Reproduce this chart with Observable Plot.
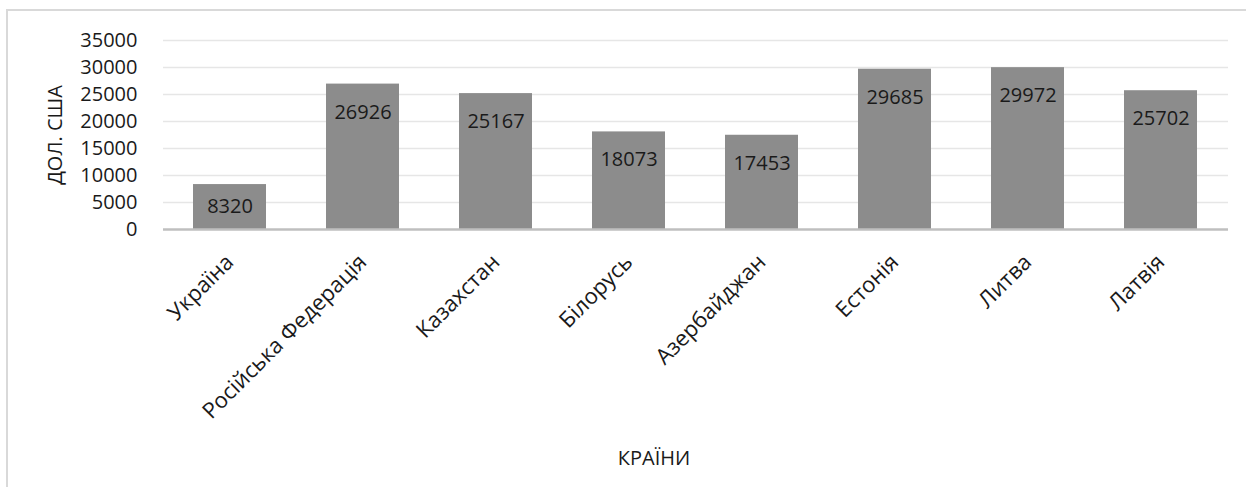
<!DOCTYPE html>
<html>
<head>
<meta charset="utf-8">
<script src="https://cdn.jsdelivr.net/npm/d3@7"></script>
<script src="https://cdn.jsdelivr.net/npm/@observablehq/plot@0.6"></script>
<style>
  html, body { margin: 0; padding: 0; background: #fff; }
  #wrap { position: relative; width: 1246px; height: 487px; overflow: hidden; }
  #frame { position: absolute; left: 6px; top: 9px; width: 1300px; height: 600px;
           border-left: 2px solid #d9d9d9; border-top: 2px solid #d9d9d9; pointer-events: none; }
  #chart { position: absolute; left: 0; top: 0; }
</style>
</head>
<body>
<div id="wrap"><div id="chart"></div><div id="frame"></div></div>
<script>
const countries = ["Україна", "Російська Федерація", "Казахстан", "Білорусь", "Азербайджан", "Естонія", "Литва", "Латвія"];
const values = [8320, 26926, 25167, 18073, 17453, 29685, 29972, 25702];
const yTicks = [0, 5000, 10000, 15000, 20000, 25000, 30000, 35000];
const xTitle = "КРАЇНИ";
const yTitle = "ДОЛ. США";

const data = countries.map((c, i) => ({country: c, value: values[i]}));
const font = "'Open Sans', sans-serif";

const plot = Plot.plot({
  width: 1246,
  height: 487,
  marginLeft: 163,
  marginRight: 18,
  marginTop: 40,
  marginBottom: 258,
  style: {fontFamily: font, fontSize: "20px", color: "#1a1a1a", background: "transparent"},
  x: {domain: countries, paddingInner: 0.45, paddingOuter: 0.225, label: null},
  y: {domain: [0, 35000], ticks: yTicks, label: null},
  marks: [
    Plot.gridY(yTicks.filter(d => d > 0), {stroke: "#e6e6e6", strokeOpacity: 1, strokeWidth: 1.5}),
    Plot.barY(data, {x: "country", y: "value", fill: "#8c8c8c"}),
    Plot.ruleY([0], {stroke: "#bfbfbf", strokeWidth: 2.5}),
    Plot.axisY({ticks: yTicks, tickSize: 0, tickPadding: 26, tickFormat: d => String(d), fontSize: 20, label: null}),
    Plot.axisX({tickSize: 0, tickRotate: -45, tickPadding: 29, fontSize: 22, label: null}),
    Plot.text(data, {
      x: "country",
      y: d => Math.max(d.value - 5185, d.value / 2),
      text: d => String(d.value),
      fill: "#1a1a1a",
      fontSize: 20
    }),
    Plot.text([yTitle], {frameAnchor: "left", textAnchor: "middle", rotate: -90, dx: -108, fontSize: 20, fill: "#1a1a1a"}),
    Plot.text([xTitle], {frameAnchor: "bottom", dx: -42, dy: 235, fontSize: 20, fill: "#1a1a1a"})
  ]
});
document.getElementById("chart").appendChild(plot);
</script>
</body>
</html>
